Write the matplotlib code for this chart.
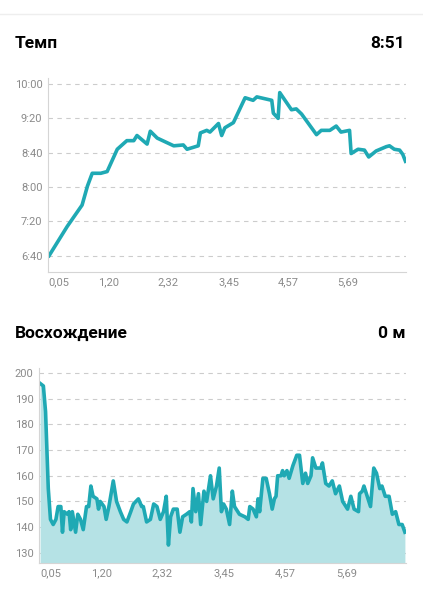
import matplotlib
matplotlib.use('Agg')
import matplotlib.pyplot as plt
from matplotlib.ticker import FuncFormatter

plt.rcParams['font.family'] = ['Roboto', 'DejaVu Sans']

# Темп: дистанция (км) и темп (сек/км)
pace_km = [0, 0.34, 0.62, 0.72, 0.81, 0.97, 1.09, 1.28, 1.46, 1.59, 1.65, 1.84, 1.90, 2.03,
           2.34, 2.52, 2.59, 2.80, 2.84, 2.96, 3.02, 3.18, 3.24, 3.30, 3.46, 3.68, 3.83, 3.90,
           4.18, 4.21, 4.30, 4.33, 4.55, 4.64, 4.74, 5.02, 5.11, 5.27, 5.39, 5.48, 5.64, 5.67,
           5.80, 5.92, 6.00, 6.14, 6.33, 6.39, 6.48, 6.58, 6.64, 6.69]
pace_sec = [400, 434, 459, 481, 496, 496, 498, 524, 534, 534, 540, 530, 545, 537,
            528, 529, 524, 528, 543, 546, 544, 554, 540, 549, 555, 584, 581, 585,
            581, 566, 560, 590, 570, 571, 565, 541, 546, 546, 551, 544, 546, 519,
            524, 523, 515, 522, 527, 528, 524, 523, 518, 510]

# Восхождение: дистанция (км) и высота (м)
elev_km = [0, .06, .10, .15, .19, .24, .29, .33, .38, .41, .44, .50, .53, .56, .59, .65, .69, .74,
           .79, .85, .89, .93, .97, 1.04, 1.07, 1.10, 1.17, 1.21, 1.26, 1.34, 1.40, 1.47, 1.53,
           1.59, 1.66, 1.71, 1.80, 1.86, 1.89, 1.95, 2.02, 2.08, 2.14, 2.20, 2.26, 2.31, 2.35,
           2.39, 2.44, 2.51, 2.56, 2.61, 2.68, 2.74, 2.77, 2.80, 2.85, 2.90, 2.94, 3.00, 3.05,
           3.12, 3.17, 3.23, 3.28, 3.32, 3.36, 3.41, 3.47, 3.52, 3.56, 3.65, 3.75, 3.81, 3.84,
           3.90, 3.96, 3.99, 4.02, 4.08, 4.14, 4.20, 4.25, 4.29, 4.32, 4.35, 4.41, 4.44, 4.47,
           4.52, 4.56, 4.63, 4.70, 4.75, 4.81, 4.86, 4.90, 4.96, 4.99, 5.05, 5.14, 5.17, 5.23,
           5.29, 5.35, 5.41, 5.48, 5.54, 5.63, 5.69, 5.75, 5.83, 5.85, 5.90, 5.93, 5.99, 6.05,
           6.11, 6.16, 6.22, 6.26, 6.32, 6.39, 6.45, 6.51, 6.57, 6.63, 6.68]
elev_m = [196, 195, 185, 155, 143, 141, 143, 148, 148, 138, 146, 145, 146, 139, 146, 138, 145, 143,
          139, 148, 148, 156, 152, 151, 147, 150, 148, 143, 148, 158, 150, 146, 143,
          142, 146, 149, 151, 148, 148, 142, 143, 149, 148, 143, 146, 152, 133,
          144, 147, 147, 138, 144, 145, 146, 142, 155, 146, 153, 141, 154, 150,
          160, 151, 156, 163, 146, 149, 147, 141, 154, 148, 145, 144, 143, 148,
          147, 144, 151, 146, 159, 159, 153, 147, 151, 152, 160, 160, 162, 160,
          162, 159, 164, 168, 168, 157, 161, 157, 160, 167, 163, 163, 165, 157,
          156, 158, 153, 156, 150, 147, 152, 147, 146, 153, 154, 156, 152, 148,
          163, 161, 155, 156, 152, 152, 145, 146, 141, 141, 138]

tick_pos = [0.19, 1.12, 2.24, 3.37, 4.49, 5.61]
tick_labels = ['0,05', '1,20', '2,32', '3,45', '4,57', '5,69']
pace_ticks = [400, 440, 480, 520, 560, 600]
elev_ticks = [130, 140, 150, 160, 170, 180, 190, 200]

LINE = '#1fa9b4'
FILL = '#b5e2e5'
GRAY = '#8a8a8a'

fig = plt.figure(figsize=(4.23, 6.0), dpi=100)
fig.add_artist(plt.Line2D([0, 1], [1 - 14 / 600] * 2, color='#eeeeee', lw=1))

fig.text(15 / 423, 1 - 43 / 600, 'Темп', fontsize=12.5, fontweight='bold', va='center')
fig.text(405 / 423, 1 - 43 / 600, '8:51', fontsize=12.5, fontweight='bold', va='center', ha='right')
fig.text(15 / 423, 1 - 333 / 600, 'Восхождение', fontsize=12.5, fontweight='bold', va='center')
fig.text(405 / 423, 1 - 333 / 600, '0 м', fontsize=12.5, fontweight='bold', va='center', ha='right')


def style(ax):
    for s in ['top', 'right']:
        ax.spines[s].set_visible(False)
    for s in ['left', 'bottom']:
        ax.spines[s].set_color('#d5d5d5')
    ax.tick_params(length=0, labelsize=8, colors=GRAY, pad=4)
    ax.grid(axis='y', linestyle=(0, (4, 4)), color='#cccccc', lw=0.8)
    ax.set_axisbelow(True)
    ax.set_xticks(tick_pos)
    ax.set_xticklabels(tick_labels)
    ax.set_xlim(-0.02, 6.70)


ax1 = fig.add_axes([48 / 423, 1 - 272 / 600, 358 / 423, 194 / 600])
style(ax1)
ax1.plot(pace_km, pace_sec, color=LINE, lw=2.6, solid_joinstyle='round')
ax1.set_ylim(381, 607)
ax1.set_yticks(pace_ticks)
ax1.yaxis.set_major_formatter(FuncFormatter(lambda v, p: f'{int(v) // 60}:{int(v) % 60:02d}'))

ax2 = fig.add_axes([39 / 423, 1 - 563 / 600, 367 / 423, 195 / 600])
style(ax2)
ax2.fill_between(elev_km, elev_m, 120, color=FILL, lw=0)
ax2.plot(elev_km, elev_m, color=LINE, lw=2.6, solid_joinstyle='round')
ax2.set_ylim(126, 202)
ax2.set_yticks(elev_ticks)

fig.savefig('out.png', dpi=100)
